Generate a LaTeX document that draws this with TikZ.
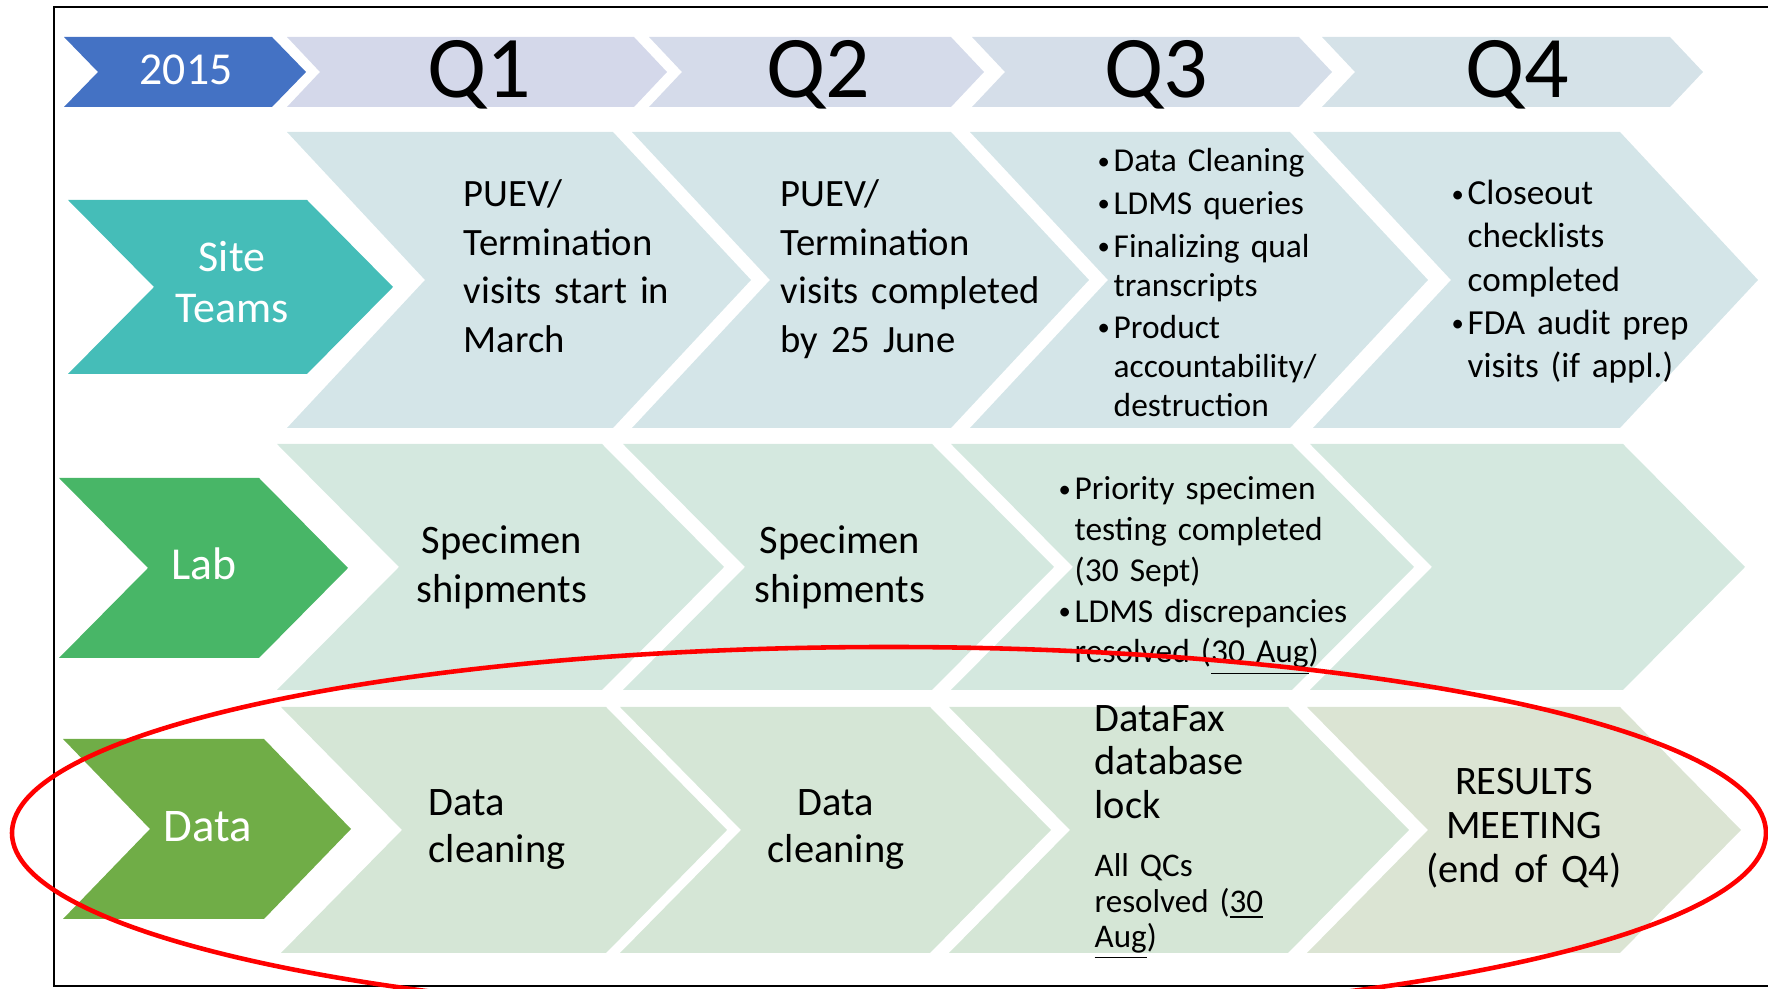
\documentclass[tikz,border=0pt]{standalone}
\usepackage{fontspec}
\setmainfont{Carlito}

\definecolor{yrblue}{HTML}{4472C4}
\definecolor{hqa}{HTML}{D4D8EA}
\definecolor{hqb}{HTML}{D5DBEA}
\definecolor{hqc}{HTML}{D5DEE9}
\definecolor{hqd}{HTML}{D5E2E8}
\definecolor{siteteal}{HTML}{45BDB8}
\definecolor{labgreen}{HTML}{48B667}
\definecolor{datagreen}{HTML}{70AD47}
\definecolor{rowa}{HTML}{D4E5E8}
\definecolor{rowb}{HTML}{D4E8DF}
\definecolor{rowc}{HTML}{D5E6D6}
\definecolor{rowd}{HTML}{DBE4D3}

\newcommand{\chev}[6]{\fill[#6] (#1,#3) -- (#2,#3) -- ({#2+#5},{(#3+#4)/2}) -- (#2,#4) -- (#1,#4) -- ({#1+#5},{(#3+#4)/2}) -- cycle;}
\newcommand{\bu}{\makebox[0.18cm][l]{\hspace{0.02cm}\raisebox{0.8pt}{\fontsize{7}{7}\selectfont\textbullet}}}
\newcommand{\nb}{\hspace*{0.18cm}}

\begin{document}
\begin{tikzpicture}[x=0.01cm,y=-0.01cm,
	tb/.style={inner sep=0pt,text width=4cm},
	lbl/.style={inner sep=0pt,white,anchor=base}]
	\useasboundingbox (0,0) rectangle (1768,989);
	\clip (0,0) rectangle (1768,989);

	\chev{64}{272}{37}{107}{34}{yrblue}
	\foreach \xa/\xb/\col in {287/634/hqa,649/951/hqb,972/1299/hqc,1322/1670/hqd}{
		\chev{\xa}{\xb}{37}{107}{33}{\col}
	}
	\chev{68}{307}{200}{374}{86}{siteteal}
	\foreach \xa/\xb in {287/613,632/951,970/1290,1313/1620}{
		\chev{\xa}{\xb}{132}{428}{138}{rowa}
	}
	\chev{59}{259}{478}{658}{89}{labgreen}
	\foreach \xa/\xb in {277/602,623/932,951/1292,1310/1623}{
		\chev{\xa}{\xb}{444}{690}{122}{rowb}
	}
	\chev{63}{264}{739}{919}{87}{datagreen}
	\foreach \xa/\xb/\col in {281/606/rowc,620/930/rowc,949/1288/rowc,1307/1620/rowd}{
		\chev{\xa}{\xb}{707}{953}{121}{\col}
	}

	\draw[line width=0.7pt] (1768,7) -- (54,7) -- (54,986) -- (1768,986);

	\node[lbl,font=\fontsize{13}{15}\selectfont] (yr) at (186,85) {2015};
	\foreach \x/\q in {479/1,818/2,1156/3,1517/4}{
		\node[inner sep=0pt,anchor=base,font=\fontsize{25}{30}\selectfont] (q\q) at (\x,98) {Q\q};
	}
	\node[lbl,tb,align=center,font=\fontsize{12.5}{14.5}\selectfont] (site) at (232,272) {Site\\Teams};
	\node[lbl,font=\fontsize{13}{15}\selectfont] (lab) at (204,580) {Lab};
	\node[lbl,font=\fontsize{13.3}{15}\selectfont] (data) at (208,842) {Data};

	\node[tb,anchor=base west,font=\fontsize{11}{13.75}\selectfont] (s1) at (463,207) {PUEV/\\Termination\\visits start in\\March};
	\node[tb,anchor=base west,font=\fontsize{11}{13.75}\selectfont] (s2) at (780,207) {PUEV/\\Termination\\visits completed\\by 25 June};
	\node[tb,anchor=base west,font=\fontsize{9.5}{11.1}\selectfont] (s3) at (1095,172) {\bu Data Cleaning\\[1pt] \bu LDMS queries\\[1pt] \bu Finalizing qual\\ \nb transcripts\\[1pt] \bu Product\\ \nb accountability/\\ \nb destruction};
	\node[tb,anchor=base west,font=\fontsize{10}{12.23}\selectfont] (s4) at (1449,205) {\bu Closeout\\ \nb checklists\\ \nb completed\\ \bu FDA audit prep\\ \nb visits (if appl.)};

	\node[tb,anchor=base,align=center,font=\fontsize{11.5}{13.66}\selectfont] (l1) at (502,554) {Specimen\\shipments};
	\node[tb,anchor=base,align=center,font=\fontsize{11.5}{13.66}\selectfont] (l2) at (840,554) {Specimen\\shipments};
	\node[tb,anchor=base west,font=\fontsize{9.5}{11.58}\selectfont] (l3) at (1056,500) {\bu Priority specimen\\ \nb testing completed\\ \nb (30 Sept)\\ \bu LDMS discrepancies\\ \nb resolved (\underline{30 Aug})};

	\node[tb,anchor=base west,font=\fontsize{11.5}{13.1}\selectfont] (d1) at (428,816) {Data\\cleaning};
	\node[tb,anchor=base,align=center,font=\fontsize{11.5}{13.1}\selectfont] (d2) at (836,816) {Data\\cleaning};
	\node[tb,anchor=base west,font=\fontsize{11.5}{12.23}\selectfont] (d3) at (1094,732) {DataFax\\database\\lock};
	\node[tb,anchor=base west,font=\fontsize{9.4}{9.96}\selectfont] (d3b) at (1094,877) {All QCs\\resolved (\underline{30}\\\underline{Aug})};
	\node[tb,anchor=base,align=center,font=\fontsize{11.5}{12.5}\selectfont] (d4) at (1524,795) {RESULTS\\MEETING\\(end of Q4)};

	\draw[red,line width=1.3pt] (889,833) ellipse [x radius=877,y radius=186];
\end{tikzpicture}
\end{document}
